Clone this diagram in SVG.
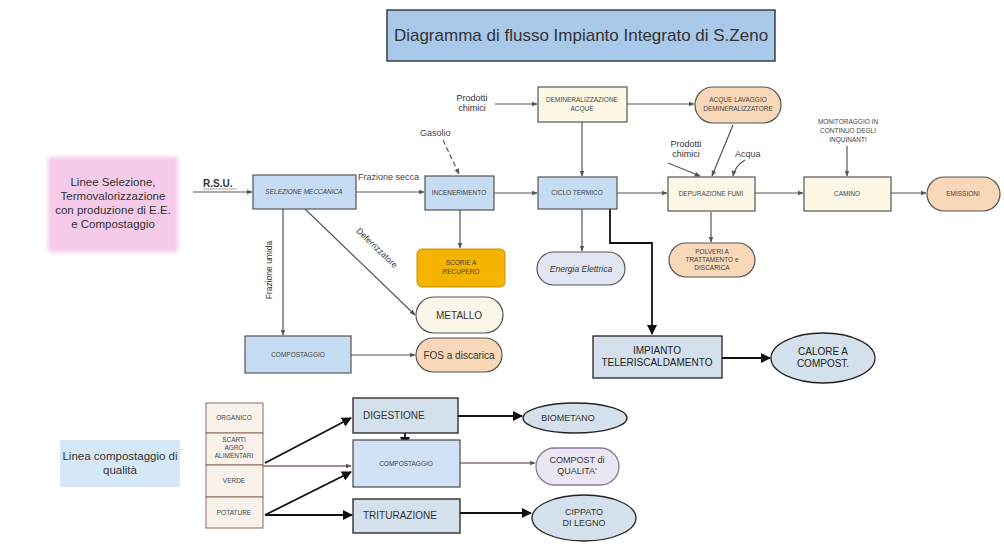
<svg xmlns="http://www.w3.org/2000/svg" width="1004" height="548" viewBox="0 0 1004 548">
  <defs>
    <marker id="ah" viewBox="0 0 10 10" refX="9" refY="5" markerWidth="6" markerHeight="6" orient="auto" markerUnits="userSpaceOnUse">
      <path d="M0,1 L10,5 L0,9 z" fill="#555"/>
    </marker>
    <marker id="ahb" viewBox="0 0 10 10" refX="9" refY="5" markerWidth="10" markerHeight="10" orient="auto" markerUnits="userSpaceOnUse">
      <path d="M0,0 L10,5 L0,10 z" fill="#111"/>
    </marker>
    <filter id="soft" x="-10%" y="-10%" width="120%" height="120%">
      <feGaussianBlur stdDeviation="2"/>
    </filter>
  </defs>
  <style>
    text { font-family: "Liberation Sans", Arial, sans-serif; fill: #333; }
    .tiny { font-size: 6.5px; text-anchor: middle; fill: #444; }
    .small { font-size: 9px; text-anchor: middle; fill: #333; }
    .lbl { font-size: 9px; fill: #444; }
    .mid { font-size: 10px; text-anchor: middle; fill: #222; }
    .ln { stroke: #555; stroke-width: 1.2; fill: none; }
    .lnb { stroke: #111; stroke-width: 1.8; fill: none; }
    .blue { fill: #c6dcf2; stroke: #555; stroke-width: 1.2; }
    .cream { fill: #fdf8e6; stroke: #555; stroke-width: 1.2; }
    .peach { fill: #f8d8b8; stroke: #555; stroke-width: 1.2; }
    .grey { fill: #d4e0ec; stroke: #222; stroke-width: 1.3; }
    .stack { fill: #f8f2ea; stroke: #8a6a5a; stroke-width: 1; }
  </style>

  <rect width="1004" height="548" fill="#ffffff"/>

  <!-- title -->
  <g id="title">
    <rect x="387" y="10" width="388" height="51" fill="#a9c9ea" stroke="#333" stroke-width="1.4"/>
    <text x="581" y="41" font-size="17" text-anchor="middle" fill="#222">Diagramma di flusso Impianto Integrato di S.Zeno</text>
  </g>

  <!-- section labels -->
  <g id="label-linee">
    <rect x="48" y="157" width="130" height="95" fill="#f6cbe9" filter="url(#soft)"/>
    <text x="113" y="186" font-size="11.5" text-anchor="middle" fill="#444">Linee Selezione,</text>
    <text x="113" y="200" font-size="11.5" text-anchor="middle" fill="#444">Termovalorizzazione</text>
    <text x="113" y="214" font-size="11.5" text-anchor="middle" fill="#444">con produzione di E.E.</text>
    <text x="113" y="228" font-size="11.5" text-anchor="middle" fill="#444">e Compostaggio</text>
  </g>
  <g id="label-linea-compostaggio">
    <rect x="60" y="440" width="120" height="47" fill="#d6e8f6"/>
    <text x="120" y="460" font-size="11.5" text-anchor="middle" fill="#444">Linea  compostaggio di</text>
    <text x="120" y="474" font-size="11.5" text-anchor="middle" fill="#444">qualità</text>
  </g>

  <!-- connectors -->
  <g id="connectors">
    <!-- upper line -->
    <line class="ln" x1="193" y1="192" x2="252" y2="192" marker-end="url(#ah)"/>
    <line class="ln" x1="356" y1="192" x2="424" y2="192" marker-end="url(#ah)"/>
    <line class="ln" x1="494" y1="193" x2="537" y2="193" marker-end="url(#ah)"/>
    <line class="ln" x1="617" y1="193" x2="667" y2="193" marker-end="url(#ah)"/>
    <line class="ln" x1="755" y1="193" x2="803" y2="193" marker-end="url(#ah)"/>
    <line class="ln" x1="891" y1="193" x2="926" y2="193" marker-end="url(#ah)"/>
    <line class="ln" x1="495" y1="104" x2="537" y2="104" marker-end="url(#ah)"/>
    <line class="ln" x1="627" y1="104" x2="694" y2="104" marker-end="url(#ah)"/>
    <line class="ln" x1="582" y1="122" x2="582" y2="176" marker-end="url(#ah)"/>
    <line class="ln" x1="733" y1="125" x2="712" y2="176" marker-end="url(#ah)"/>
    <line class="ln" x1="668" y1="163" x2="700" y2="176" marker-end="url(#ah)"/>
    <path class="ln" d="M745,160 Q735,166 733,176" marker-end="url(#ah)"/>
    <line class="ln" x1="847" y1="146" x2="847" y2="176" marker-end="url(#ah)"/>
    <line class="ln" x1="443" y1="140" x2="459" y2="174" stroke-dasharray="5,3" marker-end="url(#ah)"/>
    <line class="ln" x1="460" y1="210" x2="460" y2="248" marker-end="url(#ah)"/>
    <line class="ln" x1="582" y1="209" x2="582" y2="251" marker-end="url(#ah)"/>
    <line class="ln" x1="711" y1="212" x2="711" y2="242" marker-end="url(#ah)"/>
    <line class="ln" x1="283" y1="209" x2="283" y2="335" marker-end="url(#ah)"/>
    <line class="ln" x1="305" y1="209" x2="415" y2="315" marker-end="url(#ah)"/>
    <line class="ln" x1="351" y1="355" x2="415" y2="355" marker-end="url(#ah)"/>
    <!-- district heating branch -->
    <path class="lnb" d="M610,209 V243 H652 V334" marker-end="url(#ahb)"/>
    <line class="lnb" x1="722" y1="358" x2="770" y2="358" marker-end="url(#ahb)"/>
    <!-- quality compost line -->
    <line class="lnb" x1="265" y1="463" x2="351" y2="418" stroke-width="1.5" marker-end="url(#ahb)"/>
    <line x1="263" y1="466" x2="351" y2="466" stroke="#8a6a6a" stroke-width="1.3" marker-end="url(#ah)"/>
    <line class="lnb" x1="265" y1="515" x2="351" y2="472" stroke-width="1.5" marker-end="url(#ahb)"/>
    <line class="lnb" x1="265" y1="515" x2="352" y2="515" stroke-width="1.5" marker-end="url(#ahb)"/>
    <line class="lnb" x1="405" y1="433" x2="405" y2="446" stroke-width="1.5" marker-end="url(#ahb)"/>
    <line class="lnb" x1="458" y1="416" x2="522" y2="416" marker-end="url(#ahb)"/>
    <line x1="460" y1="463" x2="535" y2="463" stroke="#8a7080" stroke-width="1.4" marker-end="url(#ah)"/>
    <line class="lnb" x1="460" y1="513" x2="531" y2="513" marker-end="url(#ahb)"/>

    <!-- connector labels -->
    <text x="203" y="187" font-size="10" font-weight="bold" fill="#444">R.S.U.</text>
    <line x1="203" y1="189" x2="237" y2="189" stroke="#666" stroke-width="0.6"/>
    <text x="358" y="180" class="lbl">Frazione secca</text>
    <text x="420" y="136" class="lbl">Gasolio</text>
    <text x="472" y="101" class="small">Prodotti</text>
    <text x="472" y="111" class="small">chimici</text>
    <text x="686" y="147" class="small">Prodotti</text>
    <text x="686" y="157" class="small">chimici</text>
    <text x="735" y="157" class="lbl">Acqua</text>
    <text x="848" y="124" class="tiny">MONITORAGGIO IN</text>
    <text x="848" y="133" class="tiny">CONTINUO DEGLI</text>
    <text x="848" y="142" class="tiny">INQUINANTI</text>
    <text transform="translate(272,270) rotate(-90)" font-size="8.5" text-anchor="middle" fill="#444">Frazione umida</text>
    <text transform="translate(375,250) rotate(44)" font-size="8.5" text-anchor="middle" fill="#444">Deferrizzatore</text>
  </g>

  <!-- nodes: sorting, incineration and thermal cycle -->
  <g id="selezione-meccanica">
    <rect class="blue" x="253" y="175" width="103" height="34"/>
    <text x="304" y="194" class="tiny" font-style="italic">SELEZIONE MECCANICA</text>
  </g>
  <g id="incenerimento">
    <rect class="blue" x="425" y="176" width="69" height="34"/>
    <text x="459" y="195" class="tiny">INCENERIMENTO</text>
  </g>
  <g id="ciclo-termico">
    <rect class="blue" x="538" y="177" width="79" height="32"/>
    <text x="577" y="195" class="tiny">CICLO TERMICO</text>
  </g>
  <g id="demineralizzazione">
    <rect class="cream" x="538" y="87" width="89" height="35"/>
    <text x="582" y="102" class="tiny">DEMINERALIZZAZIONE</text>
    <text x="582" y="111" class="tiny">ACQUE</text>
  </g>
  <g id="acque-lavaggio">
    <rect class="peach" x="695" y="87" width="86" height="36" rx="18"/>
    <text x="738" y="102" class="tiny">ACQUE LAVAGGIO</text>
    <text x="738" y="111" class="tiny">DEMINERALIZZATORE</text>
  </g>
  <g id="depurazione-fumi">
    <rect class="cream" x="668" y="177" width="87" height="34"/>
    <text x="711" y="196" class="tiny">DEPURAZIONE FUMI</text>
  </g>
  <g id="camino">
    <rect class="cream" x="804" y="177" width="87" height="34"/>
    <text x="847" y="196" class="tiny">CAMINO</text>
  </g>
  <g id="emissioni">
    <rect class="peach" x="927" y="177" width="73" height="34" rx="17"/>
    <text x="963" y="196" class="tiny">EMISSIONI</text>
  </g>
  <g id="scorie">
    <rect x="417" y="249" width="88" height="38" rx="5" fill="#f4b400" stroke="#c89000" stroke-width="1"/>
    <text x="461" y="265" class="tiny" fill="#333">SCORIE A</text>
    <text x="461" y="274" class="tiny" fill="#333">RECUPERO</text>
  </g>
  <g id="energia-elettrica">
    <rect x="537" y="252" width="88" height="33" rx="16.5" fill="#e2e6f2" stroke="#555" stroke-width="1.2"/>
    <text x="581" y="272" font-size="8.5" text-anchor="middle" font-style="italic" fill="#444">Energia Elettrica</text>
  </g>
  <g id="polveri">
    <rect class="peach" x="669" y="243" width="86" height="34" rx="17"/>
    <text x="712" y="254" class="tiny">POLVERI A</text>
    <text x="712" y="262" class="tiny">TRATTAMENTO e</text>
    <text x="712" y="270" class="tiny">DISCARICA</text>
  </g>
  <g id="metallo">
    <rect x="416" y="297" width="87" height="36" rx="18" fill="#faf6ea" stroke="#555" stroke-width="1.2"/>
    <text x="459" y="319" font-size="10" text-anchor="middle" fill="#444">METALLO</text>
  </g>
  <g id="compostaggio-rsu">
    <rect class="blue" x="245" y="336" width="106" height="37"/>
    <text x="298" y="357" class="tiny">COMPOSTAGGIO</text>
  </g>
  <g id="fos">
    <rect class="peach" x="416" y="338" width="86" height="34" rx="17"/>
    <text x="459" y="359" font-size="10" text-anchor="middle" fill="#444">FOS a discarica</text>
  </g>
  <g id="teleriscaldamento">
    <rect class="grey" x="593" y="336" width="129" height="42"/>
    <text x="657" y="354" class="mid">IMPIANTO</text>
    <text x="657" y="366" class="mid">TELERISCALDAMENTO</text>
  </g>
  <g id="calore">
    <ellipse class="grey" cx="823" cy="358" rx="52" ry="25"/>
    <text x="823" y="355" class="mid">CALORE A</text>
    <text x="823" y="367" class="mid">COMPOST.</text>
  </g>

  <!-- nodes: quality compost line -->
  <g id="organico">
    <rect class="stack" x="206" y="403" width="57" height="30"/>
    <text x="234" y="420" class="tiny">ORGANICO</text>
  </g>
  <g id="scarti">
    <rect class="stack" x="206" y="433" width="57" height="32"/>
    <text x="234" y="442" class="tiny">SCARTI</text>
    <text x="234" y="450" class="tiny">AGRO</text>
    <text x="234" y="458" class="tiny">ALIMENTARI</text>
  </g>
  <g id="verde">
    <rect class="stack" x="206" y="465" width="57" height="32"/>
    <text x="234" y="483" class="tiny">VERDE</text>
  </g>
  <g id="potature">
    <rect class="stack" x="206" y="497" width="57" height="31"/>
    <text x="234" y="515" class="tiny">POTATURE</text>
  </g>
  <g id="digestione">
    <rect class="grey" x="353" y="398" width="105" height="35"/>
    <text x="363" y="419" font-size="10" fill="#222">DIGESTIONE</text>
  </g>
  <g id="compostaggio-qualita">
    <rect x="353" y="440" width="107" height="47" fill="#d2e2f6" stroke="#555" stroke-width="1.3"/>
    <text x="406" y="466" class="tiny">COMPOSTAGGIO</text>
  </g>
  <g id="triturazione">
    <rect class="grey" x="353" y="499" width="107" height="34"/>
    <text x="363" y="519" font-size="10" fill="#222">TRITURAZIONE</text>
  </g>
  <g id="biometano">
    <ellipse class="grey" cx="575" cy="418" rx="52" ry="15"/>
    <text x="568" y="421" font-size="9" text-anchor="middle" fill="#222">BIOMETANO</text>
  </g>
  <g id="compost-qualita">
    <rect x="536" y="448" width="83" height="37" rx="18.5" fill="#eae6f2" stroke="#8a7a9a" stroke-width="1.3"/>
    <text x="577" y="463" font-size="9" text-anchor="middle" fill="#444">COMPOST di</text>
    <text x="577" y="474" font-size="9" text-anchor="middle" fill="#444">QUALITA'</text>
  </g>
  <g id="cippato">
    <ellipse class="grey" cx="584" cy="518" rx="52" ry="23"/>
    <text x="584" y="515" font-size="9" text-anchor="middle" fill="#222">CIPPATO</text>
    <text x="584" y="526" font-size="9" text-anchor="middle" fill="#222">DI LEGNO</text>
  </g>
</svg>
